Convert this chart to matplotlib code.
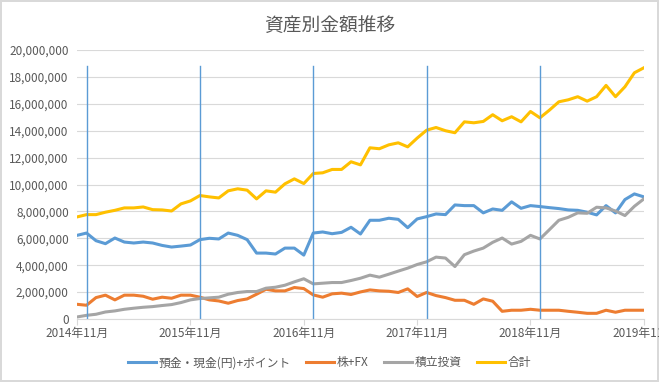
import matplotlib.pyplot as plt
import numpy as np

plt.rcParams['font.family'] = ['Noto Sans CJK JP', 'DejaVu Sans']

# monthly points, 2014年11月 .. 2019年11月
months = [f"{2014 + (10 + i) // 12}年{(10 + i) % 12 + 1}月" for i in range(61)]

# values in units of 1,000,000 yen
deposit = [6.22, 6.39, 5.82, 5.60, 6.02, 5.72, 5.65, 5.72, 5.65, 5.47,
           5.35, 5.42, 5.50, 5.90, 6.00, 5.95, 6.39, 6.22, 5.90, 4.90,
           4.90, 4.83, 5.27, 5.27, 4.75, 6.39, 6.47, 6.34, 6.44, 6.82,
           6.32, 7.34, 7.34, 7.49, 7.41, 6.79, 7.44, 7.61, 7.81, 7.76,
           8.48, 8.43, 8.43, 7.89, 8.18, 8.08, 8.71, 8.23, 8.43, 8.36,
           8.28, 8.21, 8.11, 8.08, 7.94, 7.74, 8.43, 7.89, 8.88, 9.30,
           9.08]
stock_fx = [1.09, 1.02, 1.59, 1.77, 1.42, 1.77, 1.77, 1.69, 1.47, 1.62,
            1.54, 1.77, 1.77, 1.62, 1.42, 1.34, 1.17, 1.37, 1.49, 1.84,
            2.21, 2.09, 2.09, 2.34, 2.26, 1.79, 1.62, 1.87, 1.92, 1.82,
            2.01, 2.16, 2.09, 2.06, 1.97, 2.24, 1.67, 1.97, 1.74, 1.59,
            1.39, 1.39, 1.09, 1.49, 1.32, 0.57, 0.65, 0.65, 0.72, 0.65,
            0.65, 0.65, 0.57, 0.50, 0.42, 0.42, 0.65, 0.50, 0.65, 0.65,
            0.65]
tsumitate = [0.15, 0.27, 0.35, 0.52, 0.60, 0.72, 0.80, 0.87, 0.92, 1.00,
             1.07, 1.22, 1.42, 1.52, 1.57, 1.62, 1.84, 1.97, 2.04, 2.04,
             2.29, 2.36, 2.51, 2.76, 2.99, 2.61, 2.66, 2.71, 2.71, 2.86,
             3.03, 3.26, 3.11, 3.33, 3.56, 3.78, 4.05, 4.25, 4.60, 4.53,
             3.90, 4.78, 5.05, 5.27, 5.70, 6.02, 5.57, 5.77, 6.22, 5.95,
             6.64, 7.34, 7.56, 7.89, 7.86, 8.31, 8.26, 8.03, 7.69, 8.38,
             8.93]
total = [7.59, 7.76, 7.76, 7.94, 8.08, 8.26, 8.26, 8.33, 8.13, 8.11,
         8.03, 8.56, 8.78, 9.18, 9.08, 9.00, 9.53, 9.68, 9.58, 8.93,
         9.53, 9.43, 10.05, 10.42, 10.07, 10.82, 10.87, 11.12, 11.12, 11.69,
         11.46, 12.73, 12.66, 12.95, 13.10, 12.80, 13.45, 14.04, 14.24, 14.00,
         13.85, 14.66, 14.59, 14.69, 15.19, 14.74, 15.04, 14.66, 15.43, 14.96,
         15.53, 16.15, 16.30, 16.53, 16.20, 16.53, 17.37, 16.53, 17.27, 18.31,
         18.68]

series_names = ['預金・現金(円)+ポイント', '株+FX', '積立投資', '合計']
colors = ['#5B9BD5', '#ED7D31', '#A5A5A5', '#FFC000']
marker_months = ['2014年12月', '2015年12月', '2016年12月', '2017年12月', '2018年12月']

fig = plt.figure(figsize=(6.59, 3.82), dpi=100)
fig.patch.set_edgecolor('#D9D9D9')
fig.patch.set_linewidth(1.5)
ax = fig.add_axes([0.117, 0.165, 0.86, 0.704])

x = np.arange(len(months))
for vals, name, c in zip([deposit, stock_fx, tsumitate, total], series_names, colors):
    ax.plot(x, np.array(vals) * 1e6, color=c, lw=2.2, label=name, solid_joinstyle='round')

# yearly marker lines
for m in marker_months:
    ax.axvline(months.index(m), ymin=0, ymax=18.8 / 20, color='#5B9BD5', lw=1)

ax.set_xlim(0, 60)
ax.set_ylim(0, 20e6)
ax.set_yticks(np.arange(0, 20e6 + 1, 2e6))
ax.set_yticklabels([f"{int(v):,}" for v in np.arange(0, 20e6 + 1, 2e6)])
ax.set_xticks(x[::12])
ax.set_xticklabels(months[::12])
ax.grid(axis='y', color='#D9D9D9', lw=0.8)
ax.set_axisbelow(True)
for s in ['top', 'right', 'left']:
    ax.spines[s].set_visible(False)
ax.spines['bottom'].set_color('#D9D9D9')
ax.tick_params(axis='y', length=0, labelsize=8.5, labelcolor='#595959', pad=6)
ax.tick_params(axis='x', length=4, color='#D9D9D9', labelsize=8.5, labelcolor='#595959', pad=2)

fig.suptitle('資産別金額推移', x=0.5, y=0.96, fontsize=13.5, color='#595959')
fig.legend(loc='center', bbox_to_anchor=(0.5, 0.05), ncol=4, frameon=False,
           fontsize=8.5, labelcolor='#595959', handlelength=2.4, columnspacing=1.3,
           handletextpad=0.2)

fig.savefig('out.png', dpi=100)
